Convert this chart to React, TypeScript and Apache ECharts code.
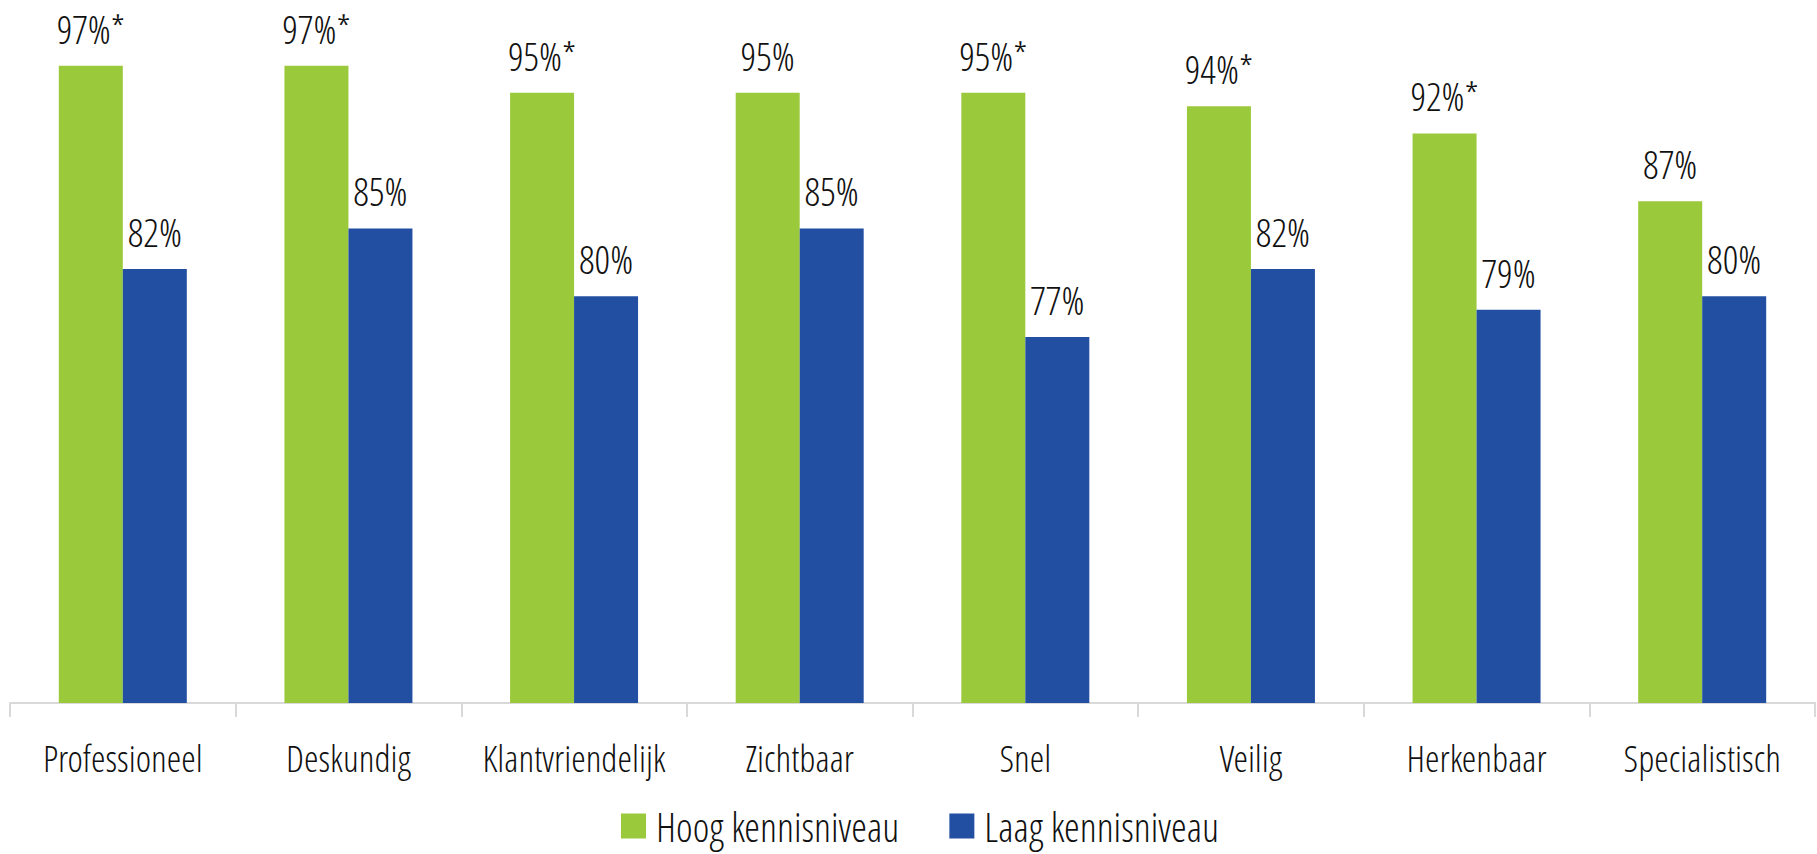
import React, { useEffect, useRef } from "react";
import * as echarts from "echarts";

const categories = ["Professioneel", "Deskundig", "Klantvriendelijk", "Zichtbaar", "Snel", "Veilig", "Herkenbaar", "Specialistisch"];
const hoogValues = [97, 97, 95, 95, 95, 94, 92, 87];
const hoogSignificant = [true, true, true, false, true, true, true, false];
const laagValues = [82, 85, 80, 85, 77, 82, 79, 80];
const seriesNames = ["Hoog kennisniveau", "Laag kennisniveau"];

const FONT = "'Open Sans Condensed Light', 'Roboto Condensed', sans-serif";
const GREEN = "#9BC93C";
const BLUE = "#234FA3";
const TEXT = "#111111";

export default function App() {
  const ref = useRef<HTMLDivElement>(null);
  useEffect(() => {
    if (!ref.current) return;
    const chart = echarts.init(ref.current, null, { renderer: "svg" });
    chart.setOption({
      animation: false,
      textStyle: { fontFamily: FONT },
      grid: { left: 10, right: 2, top: 25, bottom: 151, containLabel: false },
      legend: {
        top: 806,
        left: 621,
        padding: 0,
        icon: "rect",
        itemWidth: 25,
        itemHeight: 25,
        itemGap: 50,
        textStyle: { fontFamily: FONT, fontSize: 40, color: TEXT, padding: [0, 0, 0, 5] },
        data: seriesNames,
      },
      xAxis: {
        type: "category",
        data: categories,
        axisLine: { lineStyle: { color: "#d9d9d9", width: 2 } },
        axisTick: { show: true, length: 14, lineStyle: { color: "#d9d9d9", width: 2 } },
        axisLabel: { fontFamily: FONT, fontSize: 37, color: TEXT, margin: 36, interval: 0 },
      },
      yAxis: { type: "value", min: 50, max: 100, show: false, splitLine: { show: false } },
      series: [
        {
          name: seriesNames[0],
          type: "bar",
          data: hoogValues,
          barWidth: 64,
          barGap: "0%",
          itemStyle: { color: GREEN },
          label: {
            show: true, position: "top", distance: 18, fontFamily: FONT, fontSize: 39, color: TEXT,
            formatter: (p: any) => `${p.value}%${hoogSignificant[p.dataIndex] ? "*" : ""}`,
          },
        },
        {
          name: seriesNames[1],
          type: "bar",
          data: laagValues,
          barWidth: 64,
          barGap: "0%",
          itemStyle: { color: BLUE },
          label: {
            show: true, position: "top", distance: 18, fontFamily: FONT, fontSize: 39, color: TEXT,
            formatter: (p: any) => `${p.value}%`,
          },
        },
      ],
    });
    return () => chart.dispose();
  }, []);
  return <div ref={ref} style={{ position: "absolute", left: 0, top: 0, width: 1817, height: 854 }} />;
}
